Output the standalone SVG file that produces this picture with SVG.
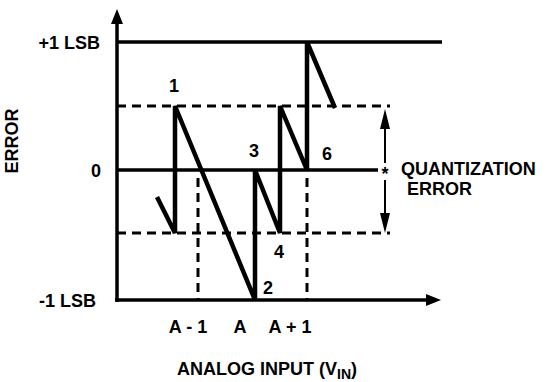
<svg xmlns="http://www.w3.org/2000/svg" width="549" height="382" viewBox="0 0 549 382">
<defs>
<style>
.t{font-family:"Liberation Sans",Arial,sans-serif;font-weight:bold;font-size:18px;fill:#000}
.ax{stroke:#000;stroke-width:3.5;fill:none}
.dash{stroke:#000;stroke-width:3;stroke-dasharray:9,6;fill:none}
.saw{stroke:#000;stroke-width:4.5;fill:none;stroke-linejoin:miter}
.thin{stroke:#000;stroke-width:2;fill:none}
</style>
</defs>
<rect width="549" height="382" fill="#fff"/>
<g id="axes">
<line class="ax" x1="117" y1="302" x2="117" y2="22"/>
<polygon points="117,9 111,24 123,24" fill="#000"/>
<line class="ax" x1="115" y1="300" x2="428" y2="300"/>
<polygon points="441,300 426,294 426,306" fill="#000"/>
</g>
<g id="connectors">
<line class="ax" x1="117" y1="42" x2="442" y2="42"/>
<line class="ax" x1="117" y1="170" x2="378" y2="170"/>
<line class="dash" x1="117" y1="106" x2="390" y2="106"/>
<line class="dash" x1="117" y1="233" x2="390" y2="233"/>
<line class="dash" x1="198" y1="178" x2="198" y2="300"/>
<line class="dash" x1="307" y1="178" x2="307" y2="300"/>
<polyline class="saw" points="157,197 175,233 175,106 255,300 255,170 280,233 280,106 307,170 307,42 335,108"/>
<line class="thin" x1="385" y1="125" x2="385" y2="163"/>
<polygon points="385,109 380,129 390,129" fill="#000"/>
<line class="thin" x1="385" y1="180" x2="385" y2="216"/>
<polygon points="385,233 380,213 390,213" fill="#000"/>
</g>
<g id="labels">
<text class="t" x="100" y="49" text-anchor="end">+1 LSB</text>
<text class="t" x="101" y="177" text-anchor="end">0</text>
<text class="t" x="96" y="307" text-anchor="end">-1 LSB</text>
<text class="t" font-size="16" transform="translate(18,141) rotate(-90)" text-anchor="middle">ERROR</text>
<text class="t" x="174" y="92" text-anchor="middle">1</text>
<text class="t" x="254" y="157" text-anchor="middle">3</text>
<text class="t" x="327" y="160" text-anchor="middle">6</text>
<text class="t" x="279" y="258" text-anchor="middle">4</text>
<text class="t" x="268" y="294" text-anchor="middle">2</text>
<text class="t" x="188" y="333" text-anchor="middle">A - 1</text>
<text class="t" x="240" y="333" text-anchor="middle">A</text>
<text class="t" x="290" y="333" text-anchor="middle">A + 1</text>
<text class="t" font-size="20" x="385" y="180" text-anchor="middle">*</text>
<text class="t" x="401" y="175">QUANTIZATION</text>
<text class="t" x="407" y="195">ERROR</text>
<text class="t" x="177" y="375">ANALOG INPUT (V<tspan font-size="14" dy="4">IN</tspan><tspan dy="-4">)</tspan></text>
</g>
</svg>
